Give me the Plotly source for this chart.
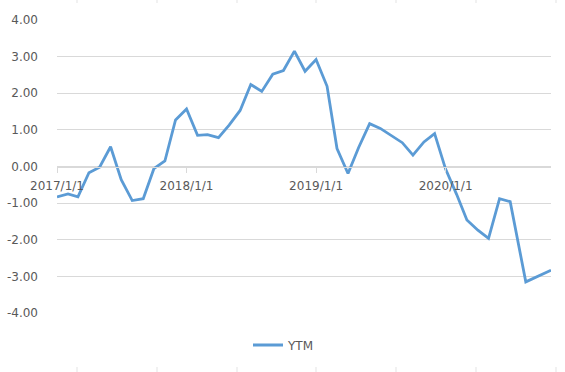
import plotly.graph_objects as go
import pandas as pd

# ---- data ----
monthly_dates = pd.date_range("2017-01-01", "2020-07-01", freq="MS").strftime("%Y-%m-%d").tolist()
tail_dates = ["2020-08-14", "2020-10-24"]
dates = monthly_dates + tail_dates

ytm_2017 = [-0.83, -0.75, -0.83, -0.17, -0.02, 0.54, -0.36, -0.93, -0.88, -0.06, 0.15, 1.27]
ytm_2018 = [1.57, 0.85, 0.87, 0.79, 1.13, 1.53, 2.24, 2.05, 2.52, 2.62, 3.15, 2.60]
ytm_2019 = [2.92, 2.19, 0.49, -0.19, 0.52, 1.17, 1.04, 0.84, 0.65, 0.31, 0.67, 0.90]
ytm_2020 = [-0.07, -0.76, -1.46, -1.74, -1.96, -0.88, -0.96, -3.15, -2.83]
ytm = ytm_2017 + ytm_2018 + ytm_2019 + ytm_2020

series_name = "YTM"
y_ticks = [-4, -3, -2, -1, 0, 1, 2, 3, 4]
y_tick_labels = ["-4.00", "-3.00", "-2.00", "-1.00", "0.00", "1.00", "2.00", "3.00", "4.00"]

# ---- style ----
LINE_COLOR = "#5b9bd5"
GRID = "#d9d9d9"
TEXT = "#595959"
FONT = "DejaVu Sans"

W, H = 565, 372
ML, MR, MT, MB = 57, 14, 20, 59

fig = go.Figure()
fig.add_trace(go.Scatter(
    x=dates, y=ytm, mode="lines", name=series_name,
    line=dict(color=LINE_COLOR, width=2.8),
))

fig.update_layout(
    width=W, height=H,
    margin=dict(l=ML, r=MR, t=MT, b=MB, autoexpand=False),
    paper_bgcolor="white", plot_bgcolor="white",
    font=dict(family=FONT, size=12, color=TEXT),
    showlegend=True,
    legend=dict(orientation="h", xref="container", yref="container",
                x=284 / W, xanchor="center", y=1 - 345 / H, yanchor="middle",
                font=dict(family=FONT, size=12, color=TEXT),
                itemwidth=30),
    xaxis=dict(
        type="date",
        range=[dates[0], dates[-1]],
        tick0="2017-01-01", dtick="M12",
        tickformat="%Y/%-m/%-d",
        anchor="free", position=0.5,
        showgrid=False, zeroline=False,
        showline=True, linecolor=GRID, linewidth=1,
        ticks="outside", ticklen=5, tickcolor=GRID,
        ticklabelstandoff=3,
        automargin=False,
        tickfont=dict(family=FONT, size=12, color=TEXT),
    ),
    yaxis=dict(
        range=[-4, 4],
        tickvals=y_ticks,
        ticktext=y_tick_labels,
        showgrid=True, gridcolor=GRID, gridwidth=1,
        zeroline=False, showline=False,
        ticks="", ticklabelstandoff=18,
        automargin=False,
        tickfont=dict(family=FONT, size=12, color=TEXT),
    ),
)

# faint spreadsheet cell borders visible at the top and bottom edges of the reference
shapes = []
PH = H - MT - MB
PW = W - ML - MR
for px in [77, 157, 237, 316, 396, 476, 556]:
    xp = (px - ML) / PW
    shapes.append(dict(type="line", xref="paper", yref="paper",
                       x0=xp, x1=xp, y0=1 + MT / PH, y1=1 + (MT - 3) / PH,
                       line=dict(color="#e3e3e3", width=1)))
    shapes.append(dict(type="line", xref="paper", yref="paper",
                       x0=xp, x1=xp, y0=-(MB - 5) / PH, y1=-MB / PH,
                       line=dict(color="#e3e3e3", width=1)))
fig.update_layout(shapes=shapes)

fig.write_html("out.html", config={"displayModeBar": False},
               post_script="document.body.style.margin='0';")
